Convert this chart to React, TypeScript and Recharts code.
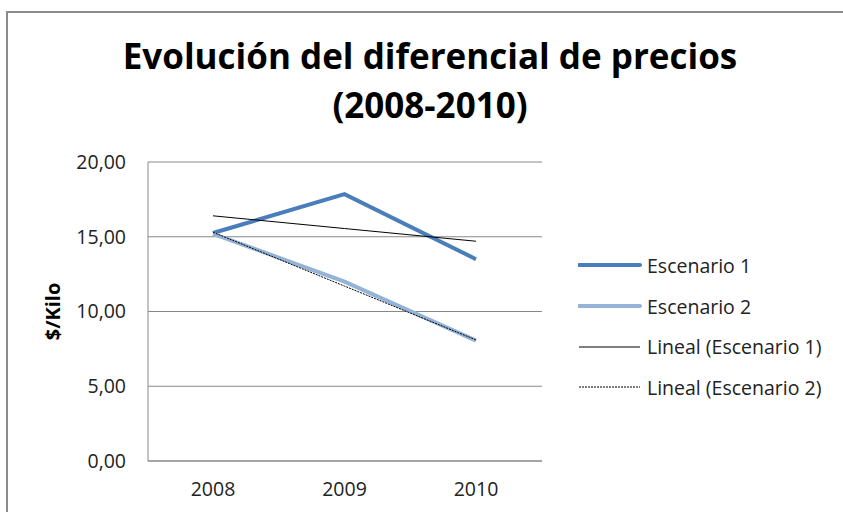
import React from 'react'
import { LineChart, Line, XAxis, YAxis, CartesianGrid } from 'recharts'

const years = ['2008', '2009', '2010']
const escenario1 = [15.25, 17.85, 13.5]
const escenario2 = [15.2, 12.0, 8.05]
const lineal1 = [16.4, 15.55, 14.7]
const lineal2 = [15.3, 11.7, 8.1]
const yTicks = [0, 5, 10, 15, 20]

const FONT = '"Open Sans", "Noto Sans", sans-serif'

const data = years.map((year, i) => ({
  year,
  e1: escenario1[i],
  e2: escenario2[i],
  l1: lineal1[i],
  l2: lineal2[i],
}))

const series = [
  { key: 'e1', name: 'Escenario 1', color: '#4a7ebb', width: 4, dash: undefined },
  { key: 'e2', name: 'Escenario 2', color: '#95b3d7', width: 4, dash: undefined },
  { key: 'l1', name: 'Lineal (Escenario 1)', color: '#000000', width: 1, dash: undefined },
  { key: 'l2', name: 'Lineal (Escenario 2)', color: '#000000', width: 1, dash: '2 1' },
]

const formatTick = (v: number) => v.toFixed(2).replace('.', ',')

export default function App() {
  return (
    <div
      style={{
        position: 'fixed',
        left: 0,
        top: 0,
        width: 843,
        height: 512,
        overflow: 'hidden',
        background: '#ffffff',
        fontFamily: FONT,
      }}
    >
      <div
        style={{
          position: 'absolute',
          left: 6,
          top: 11,
          width: 900,
          height: 600,
          border: '2px solid #8c8c8c',
          boxSizing: 'border-box',
        }}
      />
      <div
        style={{
          position: 'absolute',
          left: 30,
          top: 31,
          width: 800,
          textAlign: 'center',
          fontSize: 35,
          fontWeight: 700,
          lineHeight: '49px',
          color: '#000',
        }}
      >
        Evolución del diferencial de precios
        <br />
        (2008-2010)
      </div>

      <div style={{ position: 'absolute', left: 0, top: 0 }}>
        <LineChart
          width={843}
          height={512}
          data={data}
          margin={{ top: 162, right: 301, bottom: 21, left: 38 }}
        >
          <CartesianGrid vertical={false} stroke="#888888" strokeWidth={1} />
          <XAxis
            dataKey="year"
            height={30}
            padding={{ left: 65, right: 66 }}
            stroke="#888888"
            tickLine={false}
            tickSize={0}
            tickMargin={21}
            tick={{ fill: '#222', fontSize: 19.5, fontFamily: FONT }}
          />
          <YAxis
            width={110}
            domain={[0, 20]}
            ticks={yTicks}
            tickFormatter={formatTick}
            stroke="#888888"
            tickLine={false}
            tickSize={0}
            tickMargin={22}
            tick={{ fill: '#222', fontSize: 19.5, fontFamily: FONT }}
            label={({ viewBox }: any) => {
              const cx = viewBox.x + 14
              const cy = viewBox.y + viewBox.height / 2
              return (
                <text
                  x={cx}
                  y={cy}
                  transform={`rotate(-90, ${cx}, ${cy})`}
                  textAnchor="middle"
                  dominantBaseline="central"
                  fontSize={20}
                  fontWeight={700}
                  fontFamily={FONT}
                  fill="#000"
                >
                  $/Kilo
                </text>
              )
            }}
          />
          {series.map((s) => (
            <Line
              key={s.key}
              dataKey={s.key}
              name={s.name}
              stroke={s.color}
              strokeWidth={s.width}
              strokeDasharray={s.dash}
              dot={false}
              activeDot={false}
              type="linear"
              isAnimationActive={false}
            />
          ))}
        </LineChart>
      </div>

      <div style={{ position: 'absolute', left: 578, top: 245 }}>
        {series.map((s) => (
          <div
            key={s.key}
            style={{ display: 'flex', alignItems: 'center', height: 40.7, fontSize: 19.5, color: '#222' }}
          >
            <svg width={64} height={10} style={{ marginRight: 5 }}>
              <line
                x1={1}
                y1={5}
                x2={62}
                y2={5}
                stroke={s.color}
                strokeWidth={s.width}
                strokeDasharray={s.dash}
                strokeLinecap={s.width > 1 ? 'round' : 'butt'}
              />
            </svg>
            <span>{s.name}</span>
          </div>
        ))}
      </div>
    </div>
  )
}
